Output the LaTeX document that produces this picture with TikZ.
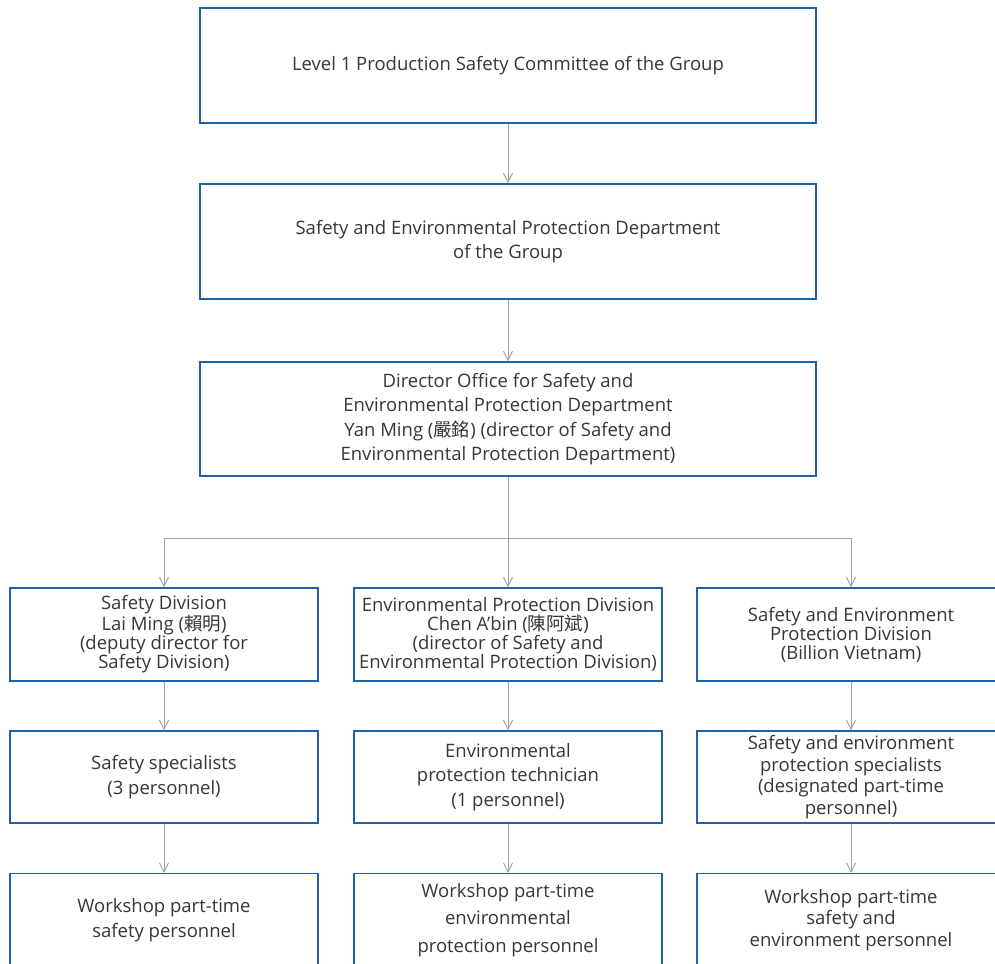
\documentclass[tikz,border=0pt]{standalone}
\usepackage{fontspec}
\setmainfont{Open Sans}
\newfontfamily\cjk{Noto Sans CJK TC}
\usetikzlibrary{arrows.meta}
\definecolor{boxblue}{HTML}{1F63A6}
\definecolor{conngray}{HTML}{A3A3A3}
\definecolor{txt}{HTML}{3A3536}
\begin{document}
\begin{tikzpicture}[x=1pt,y=-1pt,
  box/.style={draw=boxblue,line width=1.3pt,fill=white,rectangle,align=center,
    text=txt,font=\fontsize{18.5}{24.5}\selectfont,inner sep=2pt},
  wide/.style={box,minimum width=616pt},
  col/.style={box,minimum width=308pt,minimum height=93pt},
  tight/.style={font=\fontsize{18.5}{19}\selectfont},
  mid/.style={font=\fontsize{18.5}{21.5}\selectfont},
  loose/.style={font=\fontsize{18.5}{27.5}\selectfont},
  conn/.style={draw=conngray,line width=1pt},
  arr/.style={conn,-{Straight Barb[length=9pt,width=9pt,line width=1pt]}}]
\useasboundingbox (0,0) rectangle (995,963);
\node[wide,minimum height=115pt] (b1) at (508,65.5) {Level 1 Production Safety Committee of the Group};
\node[wide,minimum height=115pt] (b2) at (508,241.5) {Safety and Environmental Protection Department\\of the Group};
\node[wide,minimum height=114pt] (b3) at (508,419) {Director Office for Safety and\\Environmental Protection Department\\Yan Ming ({\cjk 嚴銘}) (director of Safety and\\Environmental Protection Department)};
\node[col,tight] (l1) at (164,634.5) {Safety Division\\Lai Ming ({\cjk 賴明})\\(deputy director for\\Safety Division)};
\node[col,tight] (m1) at (508,634.5) {Environmental Protection Division\\Chen A'bin ({\cjk 陳阿斌})\\(director of Safety and\\Environmental Protection Division)};
\node[col,tight] (r1) at (851,634.5) {Safety and Environment\\Protection Division\\(Billion Vietnam)};
\node[col,minimum height=92pt] (l2) at (164,777) {Safety specialists\\(3 personnel)};
\node[col,minimum height=92pt] (m2) at (508,777) {Environmental\\protection technician\\(1 personnel)};
\node[col,minimum height=92pt,mid] (r2) at (851,777) {Safety and environment\\protection specialists\\(designated part-time\\personnel)};
\node[col,anchor=north] (l3) at (164,873) {Workshop part-time\\safety personnel};
\node[col,anchor=north,loose] (m3) at (508,873) {Workshop part-time\\environmental\\protection personnel};
\node[col,anchor=north,mid] (r3) at (851,873) {Workshop part-time\\safety and\\environment personnel};
\coordinate (j) at (508,538);
\draw[arr] (b1.south) -- (b2.north);
\draw[arr] (b2.south) -- (b3.north);
\draw[arr] (b3.south) -- (m1.north);
\draw[arr] (j) -| (l1.north);
\draw[arr] (j) -| (r1.north);
\draw[arr] (l1.south) -- (l2.north);
\draw[arr] (m1.south) -- (m2.north);
\draw[arr] (r1.south) -- (r2.north);
\draw[arr] (l2.south) -- (l3.north);
\draw[arr] (m2.south) -- (m3.north);
\draw[arr] (r2.south) -- (r3.north);
\end{tikzpicture}
\end{document}
